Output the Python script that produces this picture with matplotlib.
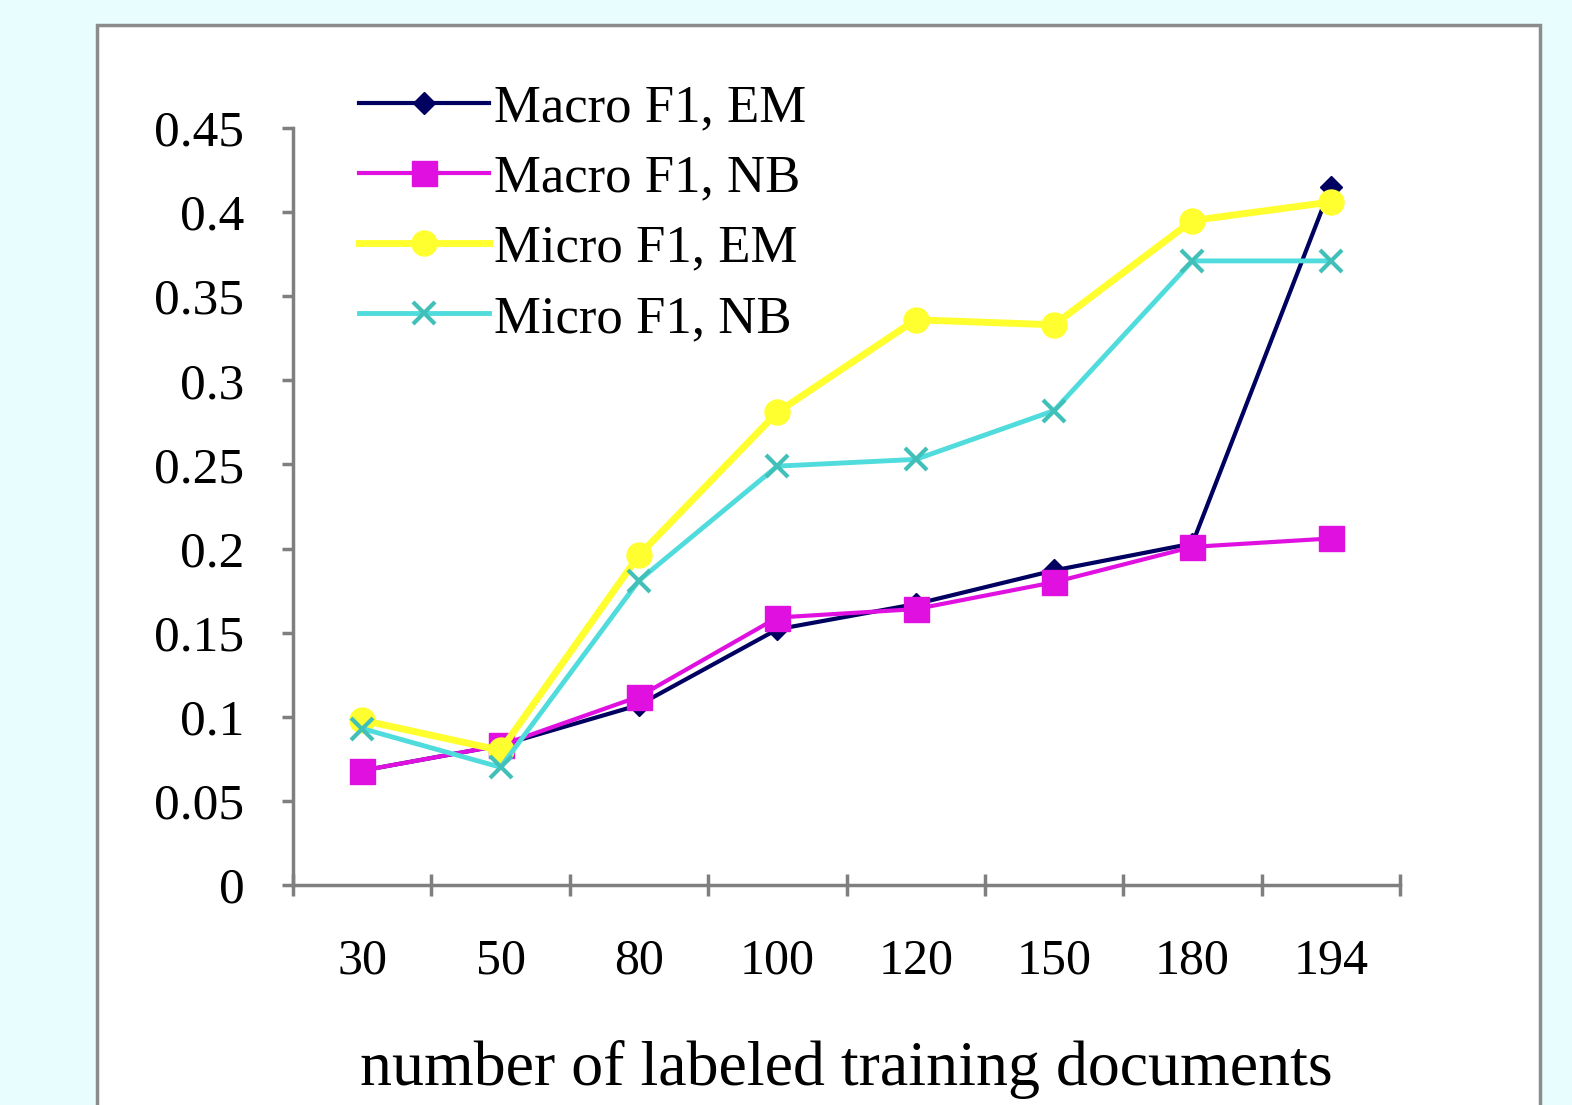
import numpy as np
import matplotlib
matplotlib.use("Agg")
import matplotlib.pyplot as plt
from matplotlib.patches import Rectangle

# values
docs = ["30", "50", "80", "100", "120", "150", "180", "194"]
macro_em = [0.068, 0.083, 0.107, 0.152, 0.167, 0.187, 0.203, 0.415]
macro_nb = [0.068, 0.083, 0.112, 0.159, 0.164, 0.180, 0.201, 0.206]
micro_em = [0.098, 0.080, 0.196, 0.281, 0.336, 0.333, 0.395, 0.406]
micro_nb = [0.093, 0.070, 0.181, 0.249, 0.253, 0.282, 0.371, 0.371]
yticks = [0, 0.05, 0.1, 0.15, 0.2, 0.25, 0.3, 0.35, 0.4, 0.45]
ytick_labels = ["0", "0.05", "0.1", "0.15", "0.2", "0.25", "0.3", "0.35", "0.4", "0.45"]

plt.rcParams['font.family'] = ['Liberation Serif', 'DejaVu Serif']

fig = plt.figure(figsize=(15.72, 11.05), dpi=100)
fig.patch.set_facecolor('#E8FEFE')

# white panel with grey border
W, H = 1572, 1105
panel = Rectangle((97 / W, -0.05), (1540 - 97) / W, 1 - 25 / H + 0.05,
                  transform=fig.transFigure, facecolor='white',
                  edgecolor='#8C8C8C', linewidth=2.5, zorder=-5)
fig.add_artist(panel)

ax = fig.add_axes([293 / W, 1 - 885 / H, (1400 - 293) / W, (885 - 128) / H])
ax.set_facecolor('none')

x = np.arange(len(docs))
ax.plot(x, macro_em, color='#000060', lw=3, marker='D', ms=11, label='Macro F1, EM')
ax.plot(x, macro_nb, color='#E010E0', lw=3, marker='s', ms=18, label='Macro F1, NB')
ax.plot(x, micro_em, color='#FFFF30', lw=5, marker='o', ms=18, label='Micro F1, EM')
ax.plot(x, micro_nb, color='#50DCDC', lw=3.5, marker='x', ms=16, mew=3,
        mec='#40C0B8', label='Micro F1, NB')

ax.set_xlim(-0.5, len(docs) - 0.5)
ax.set_ylim(0, 0.45)

for s in ['top', 'right']:
    ax.spines[s].set_visible(False)
for s in ['left', 'bottom']:
    ax.spines[s].set_color('#7F7F7F')
    ax.spines[s].set_linewidth(2.5)

# category boundaries as ticks, labels at centres
ax.set_xticks(np.arange(-0.5, len(docs), 1.0))
ax.set_xticklabels([])
ax.set_xticks(x, minor=True)
ax.set_xticklabels(docs, minor=True, fontsize=36)
ax.tick_params(axis='x', which='major', direction='inout', length=16, width=2.5, color='#7F7F7F')
ax.tick_params(axis='x', which='minor', length=0, pad=38)

ax.set_yticks(yticks)
ax.set_yticklabels(ytick_labels, fontsize=37)
ax.tick_params(axis='y', direction='out', length=8, width=2.5, color='#7F7F7F', pad=27)

ax.set_xlabel('number of labeled training documents', fontsize=46, labelpad=40)

ax.legend(loc='upper left', bbox_to_anchor=(333 / W, 1 - 58 / H),
          bbox_transform=fig.transFigure, frameon=False, fontsize=38,
          handlelength=2.45, handletextpad=0.1, labelspacing=0.42, borderpad=0)

fig.savefig('out.png', dpi=100, facecolor=fig.get_facecolor())
